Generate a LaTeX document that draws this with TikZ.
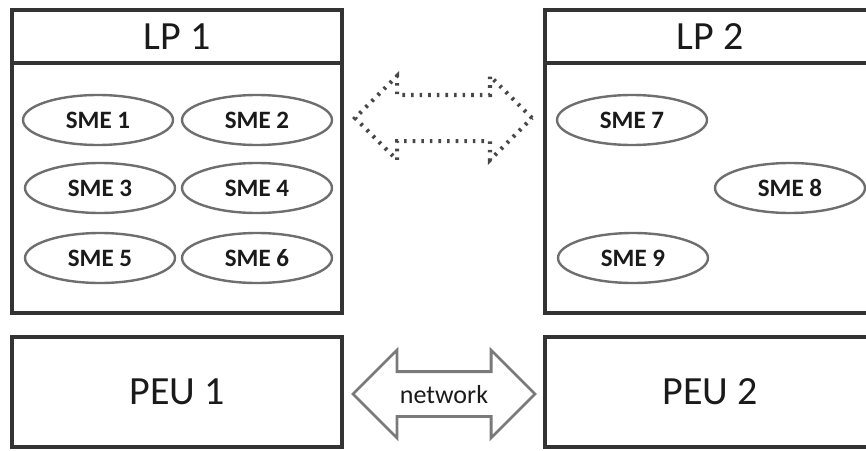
\documentclass[tikz,border=0pt]{standalone}
\usepackage{fontspec}
\setmainfont{Carlito}
\usetikzlibrary{shapes.geometric,shapes.arrows}
\definecolor{boxgray}{HTML}{333333}
\definecolor{smegray}{HTML}{6E6E6E}
\definecolor{arrowgray}{HTML}{7A7A7A}
\definecolor{txt}{HTML}{1A1A1A}
\begin{document}
\begin{tikzpicture}[x=1pt,y=-1pt,
  lpbox/.style={draw=boxgray, line width=4pt, minimum width=330pt, inner sep=0pt, text=txt, font=\fontsize{40}{40}\selectfont},
  sme/.style={ellipse, draw=smegray, line width=2.4pt, minimum width=150pt, minimum height=50pt, inner sep=0pt, text=txt, font=\bfseries\fontsize{25}{25}\selectfont},
  link/.style={double arrow, double arrow tip angle=90, inner sep=0pt, text=txt}]
\useasboundingbox (0,0) rectangle (866,450);
\clip (0,0) rectangle (866,450);
% logical processes
\node[lpbox, minimum height=53pt] (lp1) at (177,36.5) {LP 1};
\node[lpbox, minimum height=250pt] (lp1body) at (177,188) {};
\node[lpbox, minimum height=53pt] (lp2) at (710,36.5) {LP 2};
\node[lpbox, minimum height=250pt] (lp2body) at (710,188) {};
% SMEs
\node[sme] (sme1) at (98,120) {SME 1};
\node[sme] (sme2) at (257,120) {SME 2};
\node[sme] (sme3) at (100,188) {SME 3};
\node[sme] (sme4) at (257,188) {SME 4};
\node[sme] (sme5) at (100,258) {SME 5};
\node[sme] (sme6) at (257,258) {SME 6};
\node[sme] (sme7) at (632,120) {SME 7};
\node[sme] (sme8) at (790,188) {SME 8};
\node[sme] (sme9) at (633,258) {SME 9};
% physical units
\node[lpbox, minimum height=110pt] (peu1) at (177,392) {PEU 1};
\node[lpbox, minimum height=110pt] (peu2) at (710,392) {PEU 2};
% arrows
\node[link, draw=boxgray!90, line width=4.2pt, dash pattern=on 2.6pt off 6pt,
  minimum height=177pt, double arrow head extend=19pt, text height=21pt, text depth=21pt] (move) at (443.5,118) {};
\node[link, draw=arrowgray, line width=2.8pt, minimum height=182pt, double arrow head extend=21.5pt,
  text height=30pt, text depth=12pt, font=\fontsize{26}{26}\selectfont] (net) at (444,394) {network};
\end{tikzpicture}
\end{document}
